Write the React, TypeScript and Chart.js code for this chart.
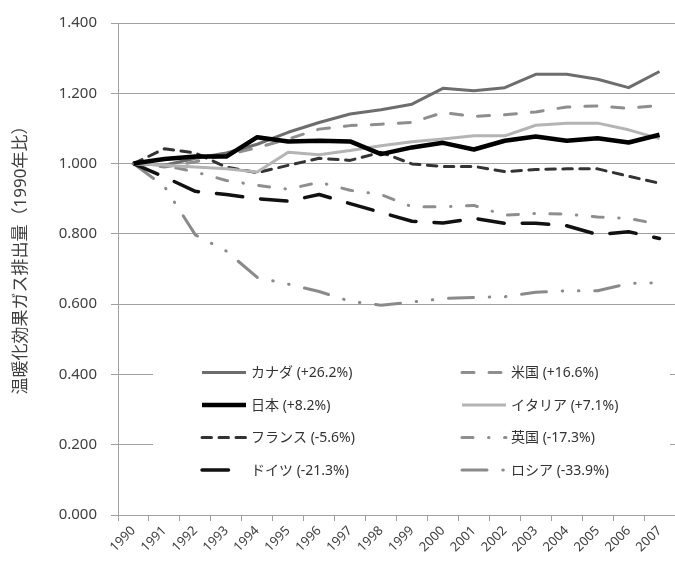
import { useEffect, useRef } from "react";
import { Chart, registerables } from "chart.js";

Chart.register(...registerables);

// Emissions indexed to 1990 = 1.000
const years = [
  "1990", "1991", "1992", "1993", "1994", "1995", "1996", "1997", "1998",
  "1999", "2000", "2001", "2002", "2003", "2004", "2005", "2006", "2007",
];

const canada = [1.000, 0.995, 1.015, 1.030, 1.055, 1.089, 1.117, 1.141, 1.153, 1.169, 1.214, 1.207, 1.216, 1.254, 1.254, 1.240, 1.216, 1.262];
const usa = [1.000, 0.990, 1.005, 1.025, 1.045, 1.070, 1.098, 1.108, 1.112, 1.117, 1.145, 1.134, 1.139, 1.147, 1.161, 1.164, 1.157, 1.166];
const japan = [1.000, 1.013, 1.020, 1.020, 1.075, 1.063, 1.065, 1.063, 1.027, 1.046, 1.059, 1.040, 1.065, 1.077, 1.065, 1.072, 1.060, 1.082];
const italy = [1.000, 0.995, 0.990, 0.985, 0.976, 1.032, 1.025, 1.037, 1.051, 1.062, 1.070, 1.079, 1.079, 1.109, 1.115, 1.115, 1.096, 1.071];
const france = [1.000, 1.042, 1.030, 0.990, 0.974, 0.995, 1.015, 1.009, 1.032, 0.999, 0.992, 0.992, 0.977, 0.983, 0.985, 0.985, 0.964, 0.944];
const uk = [1.000, 0.995, 0.976, 0.952, 0.938, 0.927, 0.947, 0.924, 0.912, 0.877, 0.877, 0.881, 0.853, 0.858, 0.856, 0.848, 0.844, 0.827];
const germany = [1.000, 0.962, 0.921, 0.912, 0.900, 0.893, 0.912, 0.886, 0.861, 0.836, 0.831, 0.844, 0.830, 0.830, 0.823, 0.798, 0.806, 0.787];
const russia = [1.000, 0.935, 0.797, 0.751, 0.676, 0.657, 0.636, 0.608, 0.597, 0.606, 0.616, 0.619, 0.621, 0.634, 0.638, 0.638, 0.659, 0.661];

const yTicks = [0, 0.2, 0.4, 0.6, 0.8, 1.0, 1.2, 1.4];

const axisTitle = "温暖化効果ガス排出量（1990年比）";

const FONT = '"Noto Sans", "Noto Sans CJK JP", sans-serif';
const TEXT = "#404040";
const GRID = "#a0a0a0";

type Series = {
  name: string;
  values: number[];
  color: string;
  width: number;
  dash: number[];
  order: number;
};

// Listed row by row as the legend shows them (two columns)
const series: Series[] = [
  { name: "カナダ", values: canada, color: "#6d6d6d", width: 3, dash: [], order: 2 },
  { name: "米国", values: usa, color: "#8e8e8e", width: 3, dash: [12, 15], order: 3 },
  { name: "日本", values: japan, color: "#000000", width: 4.5, dash: [], order: 0 },
  { name: "イタリア", values: italy, color: "#b4b4b4", width: 3, dash: [], order: 1 },
  { name: "フランス", values: france, color: "#333333", width: 3, dash: [9.5, 7.5], order: 4 },
  { name: "英国", values: uk, color: "#8e8e8e", width: 3, dash: [11, 15.5, 0.5, 15.5], order: 5 },
  { name: "ドイツ", values: germany, color: "#111111", width: 3.5, dash: [26.5, 18], order: 6 },
  { name: "ロシア", values: russia, color: "#8a8a8a", width: 3, dash: [25, 15.8, 0.5, 15.7, 0.5, 15.8], order: 7 },
];

function legendText(s: Series): string {
  const last = s.values[s.values.length - 1];
  const pct = (last - 1) * 100;
  const sign = pct >= 0 ? "+" : "-";
  return `${s.name} (${sign}${Math.abs(pct).toFixed(1)}%)`;
}

// Two-column legend inside the plot, on a white panel that masks the grid
const insetLegend = {
  id: "insetLegend",
  beforeDatasetsDraw(chart: Chart) {
    const { ctx, chartArea } = chart;
    const left = chartArea.left;
    const panelX = left + 35;
    const panelY = chartArea.top + 320;
    const panelW = chartArea.right - 5 - panelX;
    const panelH = 160;
    ctx.save();
    ctx.fillStyle = "#ffffff";
    ctx.fillRect(panelX, panelY, panelW, panelH);

    const colX = [left + 84, left + 344];
    const rowY0 = chartArea.top + 349.5;
    const rowGap = 32.5;
    const sampleLen = 44;

    ctx.font = `14px ${FONT}`;
    ctx.textBaseline = "middle";
    ctx.textAlign = "left";
    series.forEach((s, i) => {
      const col = i % 2;
      const row = Math.floor(i / 2);
      const x = colX[col];
      const y = rowY0 + row * rowGap;
      ctx.beginPath();
      ctx.strokeStyle = s.color;
      ctx.lineWidth = s.width;
      ctx.lineCap = s.dash.length ? "round" : "butt";
      ctx.setLineDash(s.dash);
      ctx.moveTo(x, y);
      ctx.lineTo(x + sampleLen, y);
      ctx.stroke();
      ctx.setLineDash([]);
      ctx.fillStyle = "#333333";
      ctx.fillText(legendText(s), x + 49, y + 1);
    });
    ctx.restore();
  },
};

// Vertical value-axis caption, set slightly above the middle of the plot
const axisCaption = {
  id: "axisCaption",
  afterDraw(chart: Chart) {
    const { ctx, chartArea } = chart;
    const cy = (chartArea.top + chartArea.bottom) / 2 - 13;
    ctx.save();
    ctx.translate(21, cy);
    ctx.rotate(-Math.PI / 2);
    ctx.font = `17px ${FONT}`;
    ctx.fillStyle = TEXT;
    ctx.textAlign = "center";
    ctx.textBaseline = "middle";
    ctx.fillText(axisTitle, 0, 0);
    ctx.restore();
  },
};

export default function App() {
  const canvasRef = useRef<HTMLCanvasElement | null>(null);

  useEffect(() => {
    document.body.style.margin = "0";
    const canvas = canvasRef.current;
    if (!canvas) return;

    const chart = new Chart(canvas, {
      type: "line",
      data: {
        labels: years,
        datasets: series.map((s) => ({
          label: s.name,
          data: s.values,
          borderColor: s.color,
          backgroundColor: s.color,
          borderWidth: s.width,
          borderDash: s.dash,
          borderCapStyle: s.dash.length ? "round" : "butt",
          borderJoinStyle: "round",
          pointRadius: 0,
          pointHoverRadius: 0,
          tension: 0,
          fill: false,
          order: s.order,
        })),
      },
      options: {
        responsive: false,
        animation: false,
        devicePixelRatio: 1,
        layout: { padding: { top: 20, left: 0, right: 0, bottom: 0 } },
        plugins: {
          legend: { display: false },
          tooltip: { enabled: false },
          title: { display: false },
        },
        scales: {
          x: {
            type: "category",
            offset: true,
            grid: {
              display: true,
              drawOnChartArea: false,
              drawTicks: true,
              tickLength: 6,
              color: GRID,
              offset: true,
            },
            border: { display: true, color: GRID, width: 1 },
            ticks: {
              autoSkip: false,
              maxRotation: 45,
              minRotation: 45,
              padding: 2,
              color: TEXT,
              font: { family: FONT, size: 13 },
            },
            afterFit: (scale: any) => {
              scale.height = 53;
            },
          },
          y: {
            min: yTicks[0],
            max: yTicks[yTicks.length - 1],
            afterBuildTicks: (scale: any) => {
              scale.ticks = yTicks.map((v) => ({ value: v }));
            },
            grid: {
              color: GRID,
              lineWidth: 1,
              drawTicks: true,
              tickLength: 7,
            },
            border: { display: true, color: GRID, width: 1 },
            ticks: {
              padding: 14,
              color: TEXT,
              font: { family: FONT, size: 15 },
              callback: (v: any) => Number(v).toFixed(3),
            },
            afterFit: (scale: any) => {
              scale.width = 118;
            },
          },
        },
      },
      plugins: [insetLegend, axisCaption],
    });

    return () => chart.destroy();
  }, []);

  return (
    <div style={{ width: 675, height: 568, background: "#ffffff" }}>
      <canvas ref={canvasRef} width={675} height={568} style={{ display: "block" }} />
    </div>
  );
}
